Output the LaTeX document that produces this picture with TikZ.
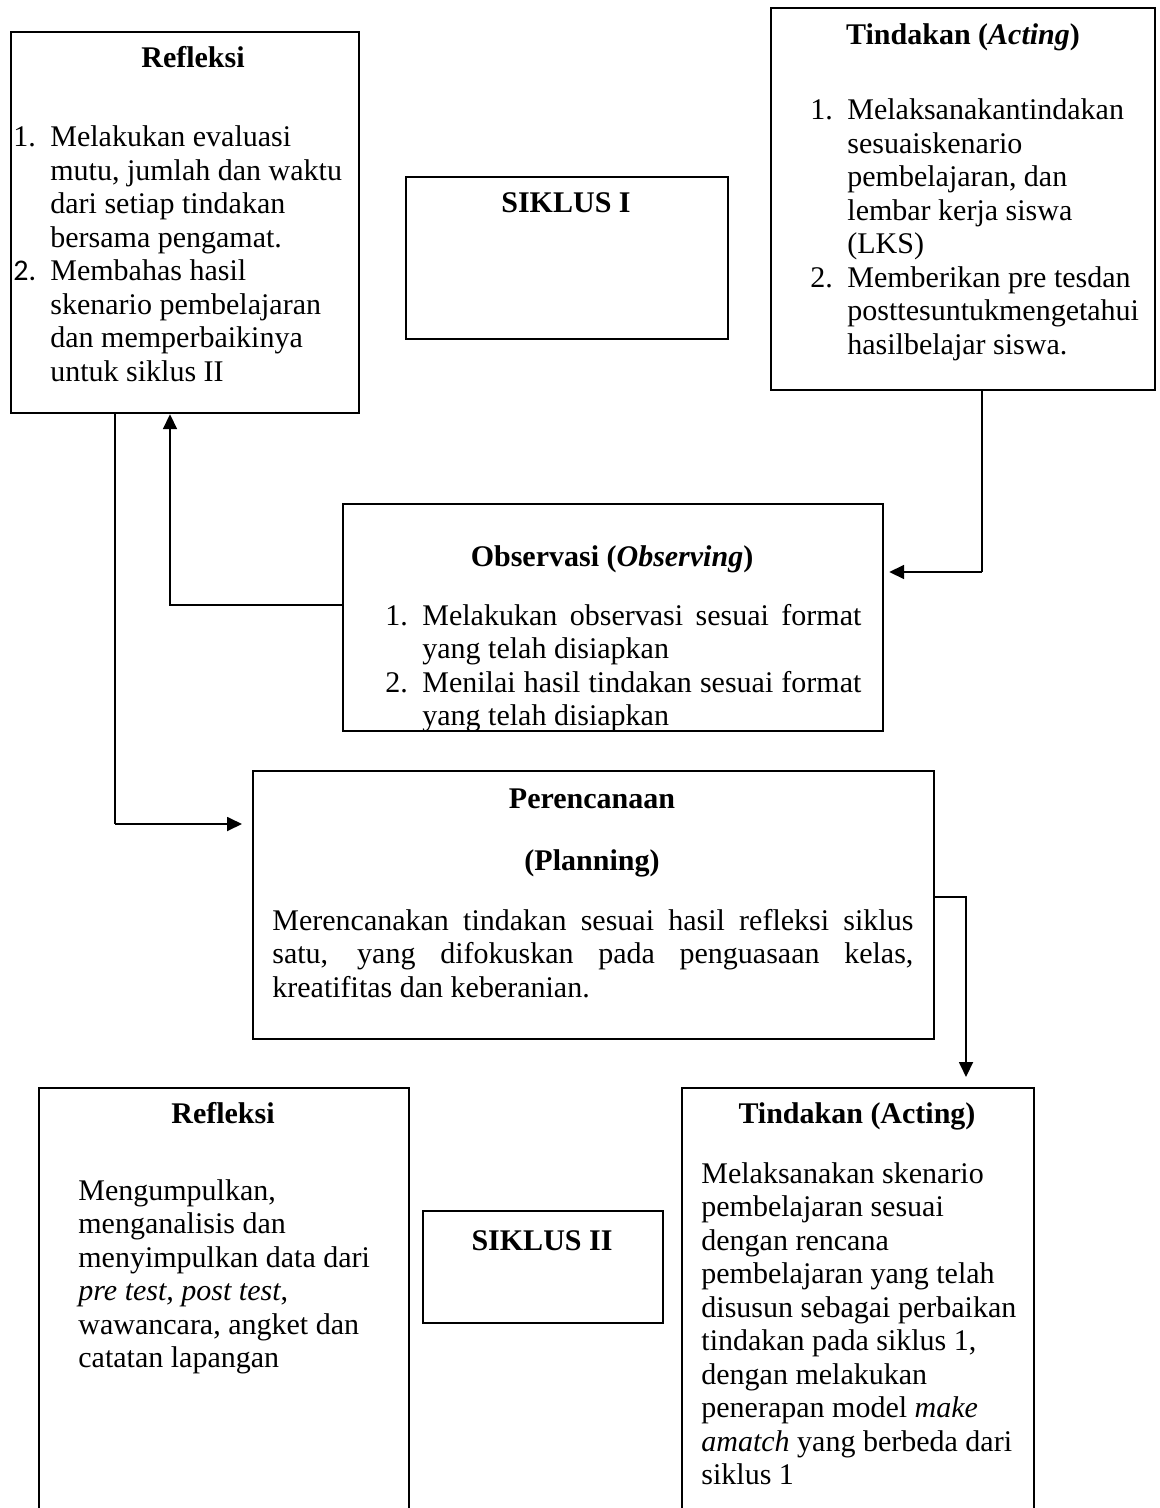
\documentclass[tikz,border=0pt]{standalone}
\usepackage{fontspec}
\setmainfont{Liberation Serif}
\newfontfamily\calibrifont{Carlito}
\usetikzlibrary{arrows.meta}
\newcommand\itemno[1]{\makebox[18.5pt][l]{#1}}

\tikzset{
  box/.style={draw, line width=1.1pt, inner sep=0pt, anchor=north west},
  ttl/.style={font=\fontsize{15pt}{16.75pt}\selectfont\bfseries, anchor=base, inner sep=0pt},
  body/.style={font=\fontsize{15pt}{16.75pt}\selectfont, anchor=base west, inner sep=0pt},
  arr/.style={line width=0.9pt, -{Triangle[length=7.5pt,width=7pt]}},
  wire/.style={line width=0.55pt}
}

\begin{document}
\begin{tikzpicture}[x=0.5pt, y=-0.5pt]
  \useasboundingbox (0,0) rectangle (1160,1508);
  \fill[white] (0,0) rectangle (1160,1508);
  \clip (0,0) rectangle (1160,1508);

  % Siklus I: refleksi
  \node[box, minimum width=174pt, minimum height=190.5pt] (refl) at (10,31) {};
  \node[ttl] (reflTitle) at (193,68) {Refleksi};
  \node[body] (reflTxt) at (13,147) {\begin{tabular}[t]{@{}l@{}}
    \itemno{1.}Melakukan evaluasi\\
    \itemno{}mutu, jumlah dan waktu\\
    \itemno{}dari setiap tindakan\\
    \itemno{}bersama pengamat.\\
    \itemno{\calibrifont 2.}Membahas hasil\\
    \itemno{}skenario pembelajaran\\
    \itemno{}dan memperbaikinya\\
    \itemno{}untuk siklus II
  \end{tabular}};

  % Siklus I: label
  \node[box, minimum width=161pt, minimum height=81pt] (siklusI) at (405,176) {};
  \node[ttl] (siklusITitle) at (566,213) {SIKLUS I};

  % Siklus I: tindakan
  \node[box, minimum width=192pt, minimum height=191pt] (act) at (770,7) {};
  \node[ttl] (actTitle) at (963,45) {Tindakan (\textit{Acting})};
  \node[body] (actTxt) at (810,120) {\begin{tabular}[t]{@{}l@{}}
    \itemno{1.}Melaksanakantindakan\\
    \itemno{}sesuaiskenario\\
    \itemno{}pembelajaran, dan\\
    \itemno{}lembar kerja siswa\\
    \itemno{}(LKS)\\
    \itemno{2.}Memberikan pre tesdan\\
    \itemno{}posttesuntukmengetahui\\
    \itemno{}hasilbelajar siswa.
  \end{tabular}};

  % Siklus I: observasi
  \node[box, minimum width=270pt, minimum height=113.5pt] (obs) at (342,503) {};
  \node[ttl] (obsTitle) at (612,566) {Observasi (\textit{Observing})};
  \begin{scope}
    \clip (obs.north west) rectangle (obs.south east);
    \node[body] (obsTxt) at (385,625) {\begin{tabular}[t]{@{}l@{}}
      \itemno{1.}\makebox[219.5pt][s]{Melakukan observasi sesuai format}\\
      \itemno{}yang telah disiapkan\\
      \itemno{2.}\makebox[219.5pt][s]{Menilai hasil tindakan sesuai format}\\
      \itemno{}yang telah disiapkan
    \end{tabular}};
  \end{scope}

  % Siklus II: perencanaan
  \node[box, minimum width=340.5pt, minimum height=134pt] (plan) at (252,770) {};
  \node[ttl] (planTitle) at (592,808) {Perencanaan};
  \node[ttl] (planSub) at (592,870) {(Planning)};
  \node[body] (planTxt) at (272,930) {\begin{tabular}[t]{@{}l@{}}
    \makebox[320.5pt][s]{Merencanakan tindakan sesuai hasil refleksi siklus}\\
    \makebox[320.5pt][s]{satu, yang difokuskan pada penguasaan kelas,}\\
    kreatifitas dan keberanian.
  \end{tabular}};

  % Siklus II: refleksi
  \node[box, minimum width=185pt, minimum height=220pt] (reflII) at (38,1087) {};
  \node[ttl] (reflIITitle) at (223,1123) {Refleksi};
  \node[body] (reflIITxt) at (78,1200) {\begin{tabular}[t]{@{}l@{}}
    Mengumpulkan,\\
    menganalisis dan\\
    menyimpulkan data dari\\
    \textit{pre test, post test},\\
    wawancara, angket dan\\
    catatan lapangan
  \end{tabular}};

  % Siklus II: label
  \node[box, minimum width=120pt, minimum height=56pt] (siklusII) at (422,1210) {};
  \node[ttl] (siklusIITitle) at (542,1250) {SIKLUS II};

  % Siklus II: tindakan
  \node[box, minimum width=176pt, minimum height=220pt] (actII) at (681,1087) {};
  \node[ttl] (actIITitle) at (857,1123) {Tindakan (Acting)};
  \node[body] (actIITxt) at (701,1183) {\begin{tabular}[t]{@{}l@{}}
    Melaksanakan skenario\\
    pembelajaran sesuai\\
    dengan rencana\\
    pembelajaran yang telah\\
    disusun sebagai perbaikan\\
    tindakan pada siklus 1,\\
    dengan melakukan\\
    penerapan model \textit{make}\\
    \textit{amatch} yang berbeda dari\\
    siklus 1
  \end{tabular}};

  % bends of the connectors
  \coordinate (bendA) at (982,572);
  \coordinate (bendB) at (170,605);
  \coordinate (bendC) at (115,824);
  \coordinate (bendD) at (966,897);

  % connectors
  \draw[wire] (act.south -| bendA) -- (bendA);
  \draw[arr, shorten >=2.5pt] (bendA) -- (obs.east |- bendA);
  \draw[arr] (obs.west |- bendB) -- (bendB) -- (refl.south -| bendB);
  \draw[wire] (refl.south -| bendC) -- (bendC);
  \draw[arr, shorten >=5pt] (bendC) -- (plan.west |- bendC);
  \draw[arr, shorten >=5pt] (plan.east |- bendD) -- (bendD) -- (actII.north -| bendD);
\end{tikzpicture}
\end{document}
